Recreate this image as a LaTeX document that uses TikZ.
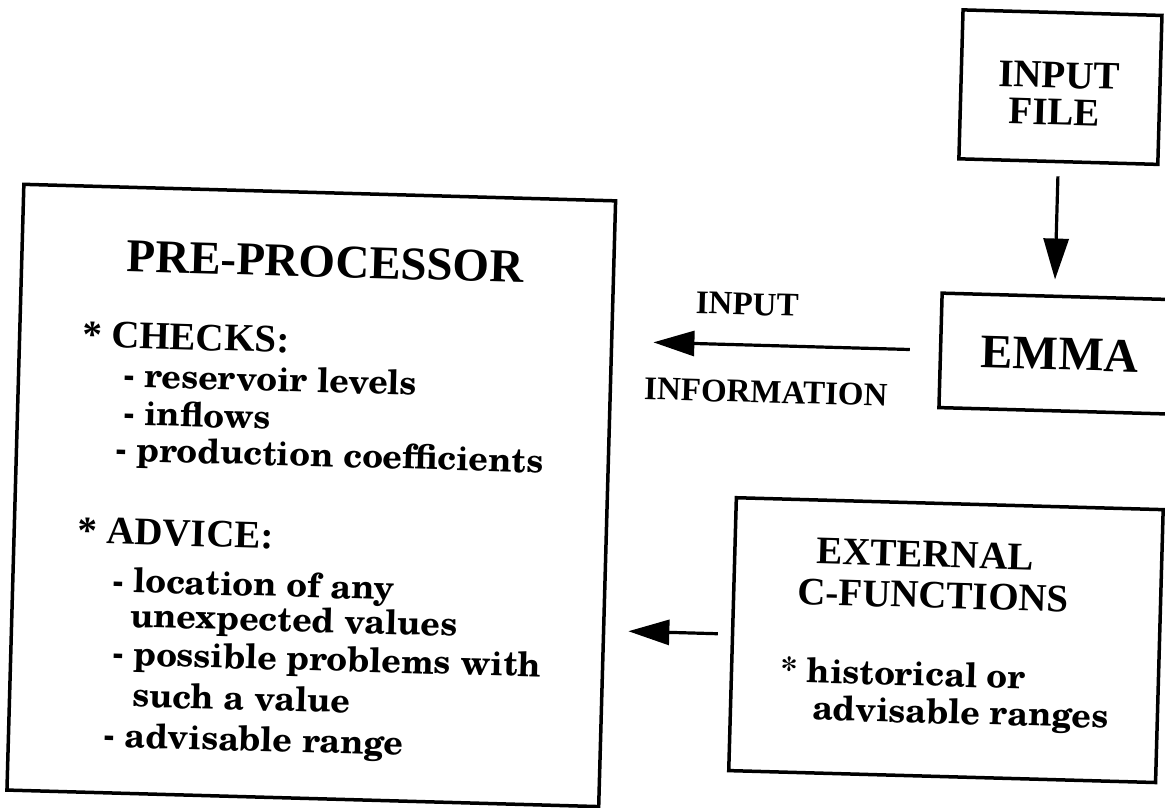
\documentclass[tikz,border=0pt]{standalone}
\usepackage{fontspec}
\setmainfont{Liberation Serif}
\newfontfamily\scholabold{texgyreschola-bold.otf}
\usetikzlibrary{arrows.meta}

\tikzset{
  box/.style={draw, line width=3.5pt, inner sep=0pt},
  flow/.style={line width=3.2pt, -{Triangle[length=41pt,width=25pt]}},
  title/.style={inner sep=0pt, anchor=base, font={\bfseries\fontsize{47}{52}\selectfont}},
  bighead/.style={inner sep=0pt, anchor=base, font={\bfseries\fontsize{48}{54}\selectfont}},
  head/.style={inner sep=0pt, anchor=base, font={\bfseries\fontsize{39}{44}\selectfont}},
  lbl/.style={inner sep=0pt, anchor=base, font={\bfseries\fontsize{33}{38}\selectfont}},
  sect/.style={inner sep=0pt, anchor=base west, font={\bfseries\fontsize{39}{44}\selectfont}},
  entry/.style={inner sep=0pt, anchor=base west, font={\scholabold\fontsize{34}{40}\selectfont}},
}

\begin{document}
\begin{tikzpicture}[x=1pt, y=-1pt]
\useasboundingbox (0,0) rectangle (1165,808);

\begin{scope}[rotate=-1.6, transform shape]
  % boxes
  \node[box, minimum width=592pt, minimum height=606pt] (pre) at (325,486.6) {};
  \node[box, minimum width=199pt, minimum height=149pt] (infile) at (1062.5,57.5) {};
  \node[box, minimum width=240pt, minimum height=114.5pt] (emma) at (1070,324) {};
  \node[box, minimum width=427pt, minimum height=273pt] (ext) at (963.5,613.5) {};

  % pre-processor contents
  \node[title] (pretitle) at (332.5,267.8) {PRE-PROCESSOR};
  \node[sect]  (checks) at (91.7,344.6) {*\hspace{0.25em}CHECKS:};
  \node[entry] (c1) at (133.8,383.4) {- reservoir levels};
  \node[entry] (c2) at (134.9,421.4) {- inflows};
  \node[entry] (c3) at (127.9,457.6) {- production coefficients};
  \node[sect]  (advice) at (92.2,540.7) {* ADVICE:};
  \node[entry] (a1) at (128.5,588.7) {- location of any};
  \node[entry] (a1b) at (147.5,623.2) {unexpected values};
  \node[entry] (a2) at (130.6,661.6) {- possible problems with};
  \node[entry] (a2b) at (151.7,703) {such a value};
  \node[entry] (a3) at (123.9,743.8) {- advisable range};

  % input file
  \node[head] (inA) at (1061,58.4) {INPUT};
  \node[head] (inB) at (1057,95.6) {FILE};

  % emma
  \node[bighead] (emmatext) at (1069.5,340.3) {EMMA};

  % external c-functions
  \node[head] (extA) at (940.4,541) {EXTERNAL};
  \node[head] (extB) at (949.6,581.8) {C-FUNCTIONS};
  \node[entry] (extC) at (798.7,659.9) {* historical or};
  \node[entry] (extD) at (831.8,697) {advisable ranges};

  % arrow labels
  \node[lbl] (lblA) at (755.5,294) {INPUT};
  \node[lbl] (lblB) at (776.5,381.4) {INFORMATION};

  % connectors
  \draw[flow, shorten <=13pt, shorten >=15pt] (infile.south) -- (infile.south |- emma.north);
  \draw[flow, shorten <=29pt, shorten >=40pt] (emma.west) -- (emma.west -| pre.east);
  \draw[flow, shorten <=13pt, shorten >=23pt] (ext.west) -- (ext.west -| pre.east);
\end{scope}
\end{tikzpicture}
\end{document}
